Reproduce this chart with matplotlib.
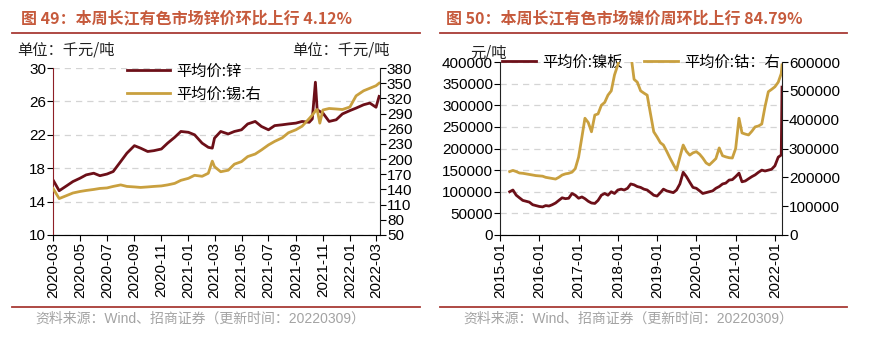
import matplotlib
matplotlib.use("Agg")
import matplotlib.pyplot as plt
import matplotlib.dates as mdates
from matplotlib.lines import Line2D
import pandas as pd

CJK = "Noto Sans CJK SC"
plt.rcParams["font.family"] = ["Liberation Sans", CJK]
plt.rcParams["axes.unicode_minus"] = False

# ---- figure 49: zinc (left axis) and tin (right axis), thousand yuan / t
zinc_dates = [
    "2020-03-01", "2020-03-15", "2020-04-01", "2020-04-15", "2020-05-01", "2020-05-15",
    "2020-06-01", "2020-06-15", "2020-07-01", "2020-07-15", "2020-08-01", "2020-08-15",
    "2020-09-01", "2020-09-15", "2020-10-01", "2020-10-15", "2020-11-01", "2020-11-15",
    "2020-12-01", "2020-12-15",
    "2021-01-01", "2021-01-15", "2021-02-01", "2021-02-15", "2021-02-24", "2021-03-01",
    "2021-03-15", "2021-04-01", "2021-04-15", "2021-05-01", "2021-05-15", "2021-06-01",
    "2021-06-15", "2021-07-01", "2021-07-15", "2021-08-01", "2021-08-15", "2021-09-01",
    "2021-09-15", "2021-10-01", "2021-10-08", "2021-10-15", "2021-10-19", "2021-10-25",
    "2021-11-01", "2021-11-15", "2021-12-01", "2021-12-15",
    "2022-01-01", "2022-01-15", "2022-02-01", "2022-02-15", "2022-03-01", "2022-03-08",
]
zinc = [
    16.6, 15.3, 15.9, 16.4, 16.8, 17.2, 17.4, 17.1, 17.3, 17.6, 18.8, 19.8,
    20.7, 20.4, 20.0, 20.1, 20.3, 21.0, 21.7, 22.4,
    22.3, 22.0, 21.0, 20.5, 20.4, 21.6, 22.4, 22.1, 22.4, 22.6, 23.3, 23.6,
    23.0, 22.6, 23.1, 23.2, 23.3, 23.4, 23.6, 23.5, 23.9, 28.3, 25.0, 24.8,
    24.6, 23.6, 23.8, 24.5,
    24.9, 25.2, 25.6, 25.8, 25.3, 26.6,
]
tin = [
    142, 122, 128, 133, 136, 138, 140, 142, 143, 146, 149, 146,
    145, 144, 145, 146, 147, 149, 152, 158,
    162, 168, 166, 172, 196, 185, 175, 178, 190, 195, 205, 210,
    218, 228, 235, 242, 252, 258, 265, 280, 287, 295, 298, 271,
    297, 300, 299, 298,
    303, 325, 335, 340, 345, 350,
]
zinc_ticks = pd.date_range("2020-03-01", "2022-03-01", freq="2MS")

# ---- figure 50: nickel plate (left axis) and cobalt (right axis), yuan / t
ni_dates = list(pd.date_range("2015-04-01", "2022-03-01", freq="MS")) + [pd.Timestamp("2022-03-08")]
nickel = [
    100000, 104000, 92000, 86000, 80000, 78000, 76000, 70000, 68000,
    66000, 65000, 68000, 67000, 70000, 74000, 80000, 86000, 84000, 85000, 96000, 92000,
    85000, 88000, 84000, 78000, 74000, 73000, 80000, 92000, 96000, 92000, 100000, 96000,
    104000, 106000, 104000, 108000, 118000, 116000, 112000, 110000, 106000, 104000, 98000, 92000,
    90000, 98000, 106000, 102000, 100000, 98000, 104000, 118000, 145000, 135000, 122000, 110000,
    108000, 102000, 96000, 98000, 100000, 102000, 108000, 112000, 118000, 120000, 127000, 128000,
    135000, 143000, 123000, 125000, 130000, 135000, 139000, 145000, 150000, 148000, 150000, 152000,
    160000, 180000, 185000, 342000,
]
cobalt = [
    220000, 224000, 220000, 215000, 214000, 212000, 210000, 208000, 206000,
    205000, 204000, 200000, 198000, 196000, 194000, 200000, 208000, 212000, 214000, 218000, 230000,
    270000, 340000, 405000, 390000, 358000, 416000, 420000, 450000, 460000, 485000, 500000, 555000,
    590000, 640000, 680000, 680000, 630000, 540000, 530000, 500000, 492000, 485000, 420000, 358000,
    340000, 320000, 312000, 290000, 267000, 245000, 225000, 270000, 312000, 290000, 277000, 285000,
    289000, 280000, 267000, 250000, 243000, 254000, 265000, 302000, 275000, 271000, 268000, 267000,
    300000, 405000, 354000, 350000, 347000, 360000, 375000, 378000, 385000, 445000, 497000, 505000,
    514000, 530000, 560000, 590000,
]
ni_ticks = pd.date_range("2015-01-01", "2022-01-01", freq="YS")

DARK = "#6c0f18"
GOLD = "#c9a03f"
TITLE = "#c65a3c"
RULE = "#a83a35"
GRAY = "#a3a3a3"
GRID = "#d4d4d4"

W, H = 869, 339
fig = plt.figure(figsize=(W / 100, H / 100), dpi=100)


def fx(px):
    return px / W


def fy(py):
    return 1 - py / H


def rule(x0, x1, y):
    fig.add_artist(Line2D([fx(x0), fx(x1)], [fy(y), fy(y)], color=RULE, lw=1.3))


def style(ax, ax2, left_color):
    for a in (ax, ax2):
        a.spines["top"].set_visible(False)
        a.tick_params(labelsize=11, direction="out", length=4, width=0.8, pad=1)
    ax.spines["left"].set_color(left_color)
    ax.spines["right"].set_visible(False)
    ax2.spines["left"].set_visible(False)
    ax2.spines["right"].set_color("#222222")
    ax.spines["bottom"].set_color("#555555")
    ax.yaxis.grid(True, ls=(0, (5, 4)), color=GRID, lw=0.9)
    ax.set_axisbelow(True)
    ax.xaxis.set_major_formatter(mdates.DateFormatter("%Y-%m"))
    plt.setp(ax.get_xticklabels(), rotation=90)


# ----------------------------- left panel
ax1 = fig.add_axes([fx(53), fy(235), fx(380 - 53), fy(68) - fy(235)])
ax1b = ax1.twinx()
zd = pd.to_datetime(zinc_dates)
l1, = ax1.plot(zd, zinc, color=DARK, lw=2.0, label="平均价:锌")
l2, = ax1b.plot(zd, tin, color=GOLD, lw=2.0, label="平均价:锡:右")
ax1.set_ylim(10, 30)
ax1.set_yticks([10, 14, 18, 22, 26, 30])
ax1b.set_ylim(50, 380)
ax1b.set_yticks(range(50, 381, 30))
ax1.set_xlim(pd.Timestamp("2020-03-01"), pd.Timestamp("2022-03-10"))
ax1.set_xticks(zinc_ticks)
style(ax1, ax1b, "#8e1f26")
ax1.legend(handles=[l1, l2], loc="upper left", bbox_to_anchor=(0.185, 1.115),
           frameon=False, prop={"family": CJK, "size": 11},
           handlelength=2.8, handletextpad=0.4, labelspacing=0.4)

fig.text(fx(21), fy(18), "图 49：本周长江有色市场锌价环比上行 4.12%", family=CJK,
         fontsize=11.5, weight="bold", color=TITLE, va="center")
rule(12, 420, 33)
fig.text(fx(17), fy(50), "单位：千元/吨", family=CJK, fontsize=11, va="center", color="#222222")
fig.text(fx(292), fy(50), "单位：千元/吨", family=CJK, fontsize=11, va="center", color="#222222")
rule(12, 420, 307)
fig.text(fx(35), fy(319), "资料来源：Wind、招商证券（更新时间：20220309）",
         family=["Liberation Sans", CJK], fontsize=10, va="center", color=GRAY)

# ----------------------------- right panel
ax2 = fig.add_axes([fx(500), fy(235), fx(782 - 500), fy(62) - fy(235)])
ax2b = ax2.twinx()
nd = pd.to_datetime(ni_dates)
m1, = ax2.plot(nd, nickel, color=DARK, lw=2.0, label="平均价:镍板")
m2, = ax2b.plot(nd, cobalt, color=GOLD, lw=2.0, label="平均价:钴：右")
ax2.set_ylim(0, 400000)
ax2.set_yticks(range(0, 400001, 50000))
ax2b.set_ylim(0, 600000)
ax2b.set_yticks(range(0, 600001, 100000))
ax2.set_xlim(pd.Timestamp("2015-01-01"), pd.Timestamp("2022-03-08"))
ax2.set_xticks(ni_ticks)
style(ax2, ax2b, "#222222")
ax2.legend(handles=[m1, m2], loc="center left", bbox_to_anchor=(-0.04, 1.0),
           ncol=2, frameon=False, prop={"family": CJK, "size": 11},
           handlelength=2.2, handletextpad=0.4, columnspacing=1.4)

fig.text(fx(446), fy(18), "图 50：本周长江有色市场镍价周环比上行 84.79%", family=CJK,
         fontsize=11.5, weight="bold", color=TITLE, va="center")
rule(440, 847, 33)
fig.text(fx(470), fy(53), "元/吨", family=CJK, fontsize=11, va="center", color="#222222")
rule(440, 847, 307)
fig.text(fx(463), fy(319), "资料来源：Wind、招商证券（更新时间：20220309）",
         family=["Liberation Sans", CJK], fontsize=10, va="center", color=GRAY)

fig.savefig("out.png", dpi=100, facecolor="white")
